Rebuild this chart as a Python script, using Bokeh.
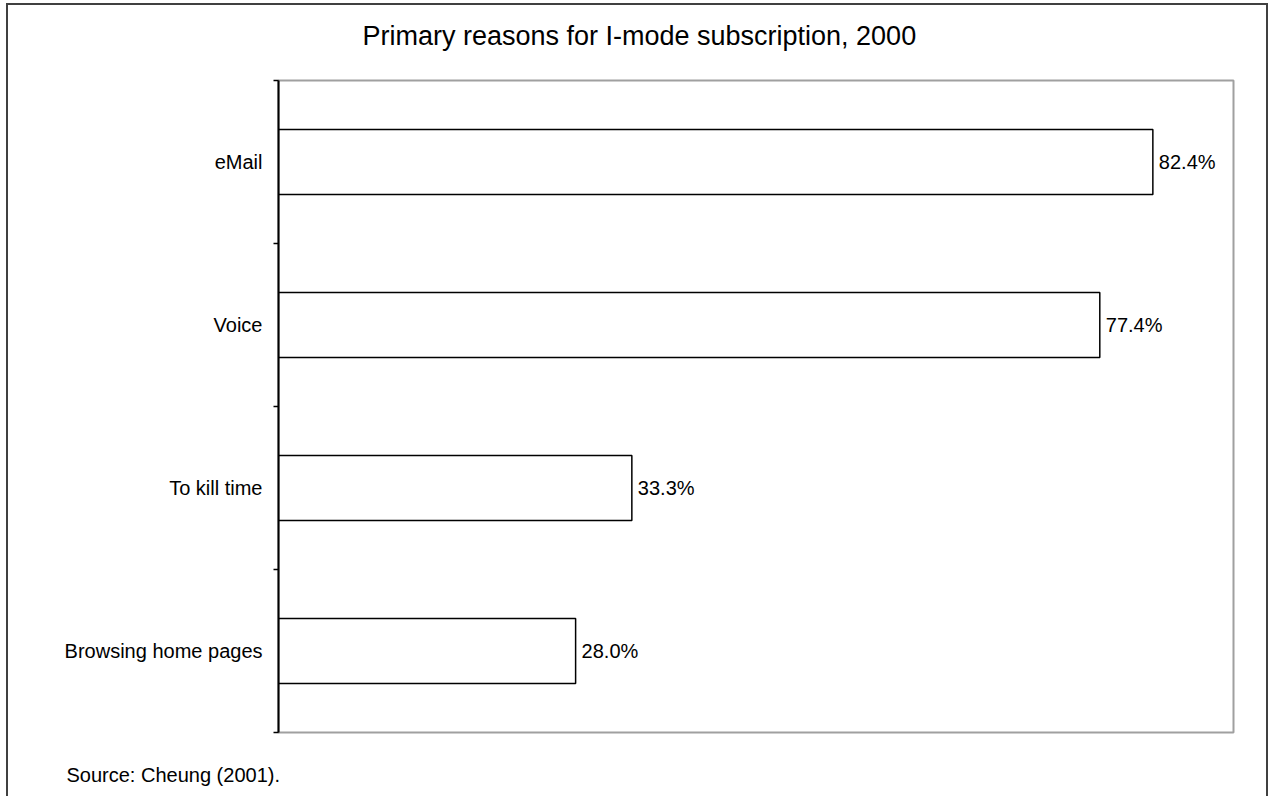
from bokeh.plotting import figure
from bokeh.models import ColumnDataSource, LabelSet, Title, FixedTicker, Range1d, LinearAxis
from bokeh.core.properties import value
from bokeh.embed import file_html
from bokeh.resources import INLINE

# ---- data ----
categories = ["eMail", "Voice", "To kill time", "Browsing home pages"]
values = [82.4, 77.4, 33.3, 28.0]
value_labels = ["82.4%", "77.4%", "33.3%", "28.0%"]
title_text = "Primary reasons for I-mode subscription, 2000"
source_text = "Source: Cheung (2001)."

n = len(categories)
ys = [n - i - 0.5 for i in range(n)]

src = ColumnDataSource(dict(y=ys, v=values, lab=value_labels, cat=categories))

FONT = "Liberation Sans"

p = figure(width=1262, height=815, output_backend="svg", toolbar_location=None,
           x_range=Range1d(0, 90), y_range=Range1d(0, n),
           min_border_left=270, min_border_right=37, min_border_top=75,
           min_border_bottom=88)
p.margin = (3, 0, 0, 6)
p.styles = {"border": "2px solid #404040"}

p.hbar(y="y", right="v", left=0, height=0.4, source=src,
       fill_color="white", line_color="black", line_width=1.5)

p.add_layout(LabelSet(x="v", y="y", text="lab", source=src, x_offset=6,
                      text_baseline="middle", text_align="left",
                      text_font=value(FONT), text_font_size="20px", text_color="black"))

p.xaxis.visible = False
p.xgrid.visible = False
p.ygrid.visible = False

ax = p.yaxis[0]
ax.ticker = FixedTicker(ticks=ys, minor_ticks=list(range(n + 1)))
ax.major_label_overrides = {y: c for y, c in zip(ys, categories)}
ax.major_tick_out = 0
ax.major_tick_in = 0
ax.minor_tick_out = 5
ax.minor_tick_in = 0
ax.minor_tick_line_color = "black"
ax.minor_tick_line_width = 1.5
ax.axis_line_color = "black"
ax.axis_line_width = 2
ax.major_label_text_font = FONT
ax.major_label_text_font_size = "20px"
ax.major_label_text_color = "black"
ax.major_label_standoff = 11

p.outline_line_color = "#a0a0a0"
p.outline_line_width = 2

# chart title as the single label of an otherwise invisible top axis
TITLE_X = 34
title_axis = LinearAxis(ticker=FixedTicker(ticks=[TITLE_X], minor_ticks=[]),
                        major_label_overrides={TITLE_X: title_text},
                        axis_line_color=None, major_tick_line_color=None,
                        minor_tick_line_color=None, major_tick_out=0, major_tick_in=0,
                        major_label_standoff=30,
                        major_label_text_font=FONT, major_label_text_font_size="27px",
                        major_label_text_color="black")
p.add_layout(title_axis, "above")

p.add_layout(Title(text=source_text, align="left", offset=-212, standoff=62,
                   vertical_align="top",
                   text_font=FONT, text_font_size="20px", text_font_style="normal",
                   text_color="black"), "below")

open("out.html", "w").write(file_html(p, INLINE))
